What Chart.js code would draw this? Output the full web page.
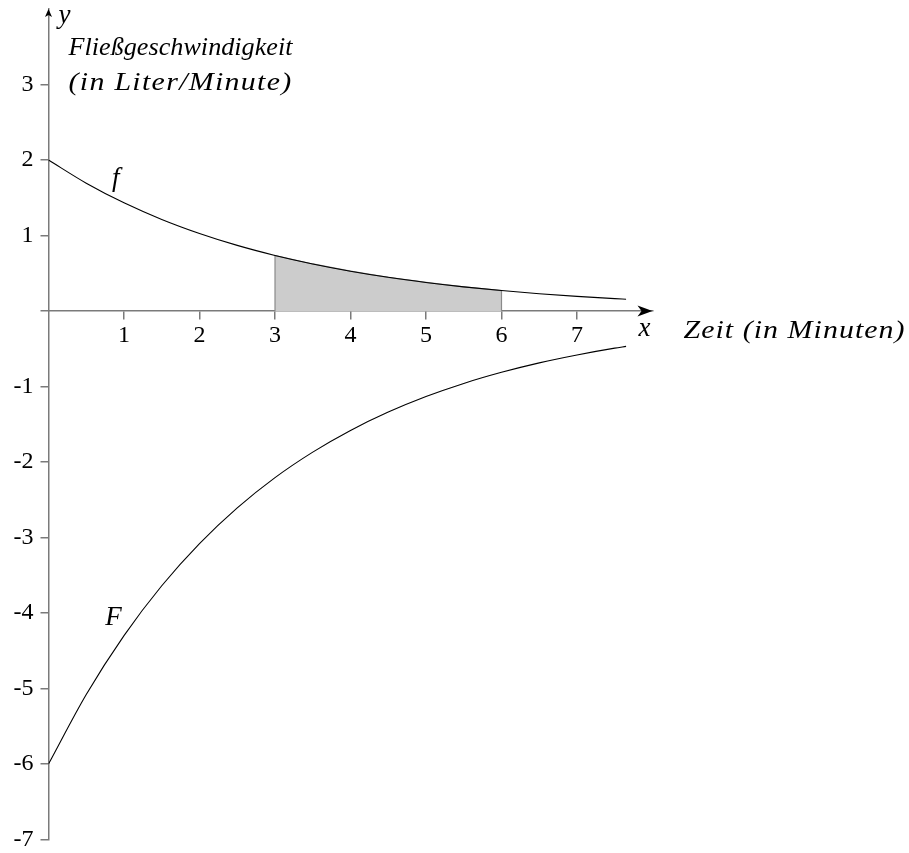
<!DOCTYPE html>
<html><head><meta charset="utf-8">
<script src="https://cdn.jsdelivr.net/npm/chart.js@4/dist/chart.umd.min.js"></script>
<style>html,body{margin:0;padding:0;background:#fff}#wrap{width:909px;height:853px}</style>
</head><body><div id="wrap"><canvas id="c" width="909" height="853"></canvas></div>
<script>
// sampled x positions (minutes)
const xValues = [0, 0.5, 1, 1.5, 2, 2.5, 3, 3.5, 4, 4.5, 5, 5.5, 6, 6.5, 7, 7.5, 7.65];
// f: flow rate (liter/minute)
const fValues = [2.000, 1.693, 1.433, 1.213, 1.027, 0.869, 0.736, 0.623, 0.527, 0.446, 0.378, 0.320, 0.271, 0.229, 0.194, 0.164, 0.156];
// F: antiderivative
const FValues = [-6.000, -5.079, -4.299, -3.639, -3.081, -2.608, -2.207, -1.869, -1.582, -1.339, -1.133, -0.959, -0.812, -0.687, -0.582, -0.492, -0.469];
// shaded area under f between x=3 and x=6
const areaX = [3, 3, 3.5, 4, 4.5, 5, 5.5, 6, 6];
const areaY = [0, 0.736, 0.623, 0.527, 0.446, 0.378, 0.320, 0.271, 0];
// axis ticks
const xTicks = [1, 2, 3, 4, 5, 6, 7];
const yTicks = [-7, -6, -5, -4, -3, -2, -1, 0, 1, 2, 3];
const xRange = [0, 8];
const yRange = [-7, 4];
// texts
const xAxisName = 'x';
const yAxisName = 'y';
const xAxisTitle = 'Zeit (in Minuten)';
const yAxisTitle = ['Fließgeschwindigkeit', '(in Liter/Minute)'];
const curveNames = ['f', 'F'];
const curveLabelPos = [[0.84, 1.66], [0.75, -4.16]];

const FONT = '"Liberation Serif", "DejaVu Serif", serif';
const AXIS_COLOR = '#7a7a7a';

const toPts = (xs, ys) => xs.map((v, i) => ({x: v, y: ys[i]}));

// draw text stretched to a given width: part horizontal scaling, part letter spacing
function fitText(ctx, text, x, y, w) {
  ctx.letterSpacing = '0px';
  const m = ctx.measureText(text).width;
  const sx = Math.min(1.15, Math.max(1, w / m));
  const ls = (w / sx - m) / text.length;
  ctx.save();
  ctx.translate(x, y);
  ctx.scale(sx, 1);
  ctx.letterSpacing = ls.toFixed(2) + 'px';
  ctx.fillText(text, 0, 0);
  ctx.restore();
  ctx.letterSpacing = '0px';
}

const deco = {
  id: 'deco',
  afterDraw(chart) {
    const {ctx, scales: {x, y}} = chart;
    const x0 = x.getPixelForValue(0), y0 = y.getPixelForValue(0);
    const xEnd = x.getPixelForValue(xRange[1]), yTop = y.getPixelForValue(yRange[1]);
    ctx.save();
    ctx.fillStyle = '#000';
    // x arrow (stealth)
    ctx.beginPath();
    ctx.moveTo(xEnd, y0);
    ctx.lineTo(xEnd - 15, y0 - 5.5);
    ctx.lineTo(xEnd - 11, y0);
    ctx.lineTo(xEnd - 15, y0 + 5.5);
    ctx.closePath(); ctx.fill();
    // y arrow
    ctx.beginPath();
    ctx.moveTo(x0, yTop);
    ctx.lineTo(x0 - 3.5, yTop + 8);
    ctx.lineTo(x0, yTop + 6);
    ctx.lineTo(x0 + 3.5, yTop + 8);
    ctx.closePath(); ctx.fill();
    // texts
    ctx.textBaseline = 'alphabetic';
    ctx.textAlign = 'left';
    ctx.font = 'italic 27px ' + FONT;
    ctx.fillText(yAxisName, x0 + 10, yTop + 14);
    ctx.fillText(xAxisName, xEnd - 14, y0 + 25);
    ctx.font = 'italic 26px ' + FONT;
    fitText(ctx, yAxisTitle[0], x0 + 20, yTop + 46, 224);
    fitText(ctx, yAxisTitle[1], x0 + 20, yTop + 81, 224);
    fitText(ctx, xAxisTitle, xEnd + 31, y0 + 27, 222);
    ctx.font = 'italic 27px ' + FONT;
    curveNames.forEach((n, i) => {
      ctx.fillText(n, x.getPixelForValue(curveLabelPos[i][0]), y.getPixelForValue(curveLabelPos[i][1]));
    });
    ctx.restore();
  }
};

new Chart(document.getElementById('c'), {
  type: 'line',
  data: {
    datasets: [
      {
        data: toPts(areaX, areaY), order: 3, fill: 'origin',
        backgroundColor: '#cccccc', borderColor: '#8a8a8a', borderWidth: 1.2,
        pointRadius: 0, tension: 0
      },
      {
        data: toPts(xValues, fValues), order: 1, fill: false,
        borderColor: '#000', borderWidth: 1.1, pointRadius: 0,
        cubicInterpolationMode: 'monotone'
      },
      {
        data: toPts(xValues, FValues), order: 1, fill: false,
        borderColor: '#000', borderWidth: 1.1, pointRadius: 0,
        cubicInterpolationMode: 'monotone'
      }
    ]
  },
  options: {
    responsive: false,
    devicePixelRatio: 1,
    animation: false,
    layout: {padding: {left: 0, top: 9, right: 256.5, bottom: 13.5}},
    plugins: {legend: {display: false}, tooltip: {enabled: false}},
    scales: {
      x: {
        type: 'linear', position: {y: 0}, min: xRange[0], max: xRange[1],
        afterBuildTicks: s => { s.ticks = xTicks.map(v => ({value: v})); },
        afterFit: s => { s.paddingLeft = 0; s.paddingRight = 0; },
        grid: {display: true, drawOnChartArea: false, drawTicks: true, tickLength: 8, color: AXIS_COLOR, lineWidth: 1.5},
        border: {display: true, color: AXIS_COLOR, width: 1.5},
        ticks: {color: '#000', font: {family: FONT, size: 24}, padding: 2, maxRotation: 0, autoSkip: false}
      },
      y: {
        type: 'linear', position: 'left', min: yRange[0], max: yRange[1],
        afterBuildTicks: s => { s.ticks = yTicks.map(v => ({value: v})); },
        afterFit: s => { s.width = 48.5; s.paddingTop = 0; s.paddingBottom = 0; },
        grid: {display: true, drawOnChartArea: false, drawTicks: true, tickLength: 8, color: AXIS_COLOR, lineWidth: 1.5},
        border: {display: true, color: AXIS_COLOR, width: 1.5},
        ticks: {color: '#000', font: {family: FONT, size: 24}, padding: 7, autoSkip: false,
          callback: v => v === 0 ? '' : String(v)}
      }
    }
  },
  plugins: [deco]
});
</script></body></html>
